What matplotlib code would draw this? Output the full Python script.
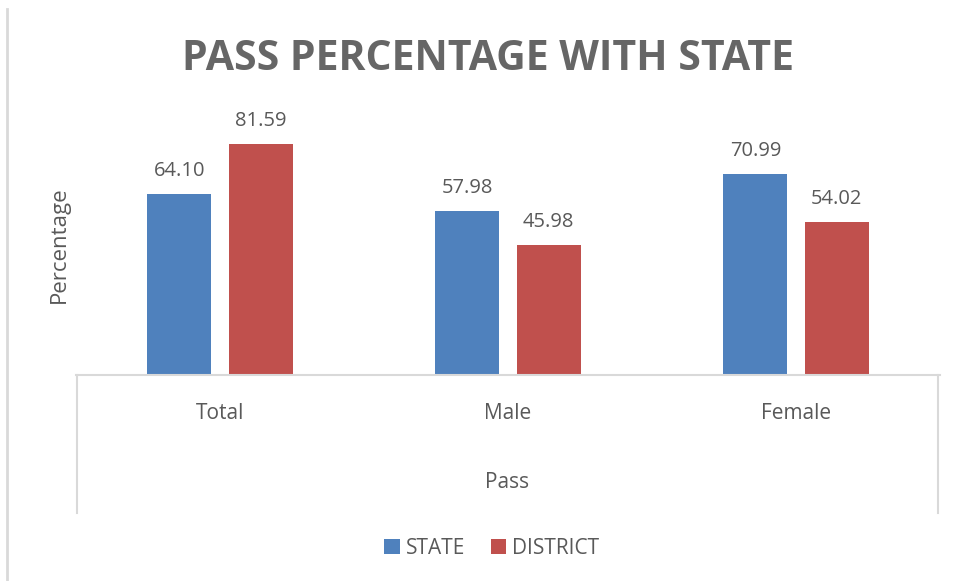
import matplotlib.pyplot as plt
from matplotlib.lines import Line2D
import numpy as np

categories = ['Total', 'Male', 'Female']
state = [64.10, 57.98, 70.99]
district = [81.59, 45.98, 54.02]
series_names = ['STATE', 'DISTRICT']
colors = ['#4F81BD', '#C0504D']
text_col = '#595959'
line_col = '#D9D9D9'

plt.rcParams['font.family'] = ['Open Sans', 'DejaVu Sans']

W, H = 956, 581
fig = plt.figure(figsize=(W / 100, H / 100), dpi=100)
ax = fig.add_axes([76 / W, 1 - 375 / H, 864 / W, 283 / H])

x = np.arange(len(categories))
bw = 0.222
off = 0.141
for vals, name, c, dx in zip([state, district], series_names, colors, [-off, off]):
    bars = ax.bar(x + dx, vals, bw, color=c, label=name)
    for b, v in zip(bars, vals):
        ax.text(b.get_x() + b.get_width() / 2, v + 4.5, f'{v:.2f}',
                ha='center', va='bottom', fontsize=14.5, color=text_col)

ax.set_xlim(-0.5, 2.5)
ax.set_ylim(0, 100)
ax.set_yticks([])
ax.set_xticks(x)
ax.set_xticklabels(categories, fontsize=15, color=text_col)
ax.tick_params(axis='x', length=0, pad=20)
for s in ['top', 'right', 'left']:
    ax.spines[s].set_visible(False)
ax.spines['bottom'].set_color(line_col)
ax.spines['bottom'].set_linewidth(1.5)

ax.set_ylabel('Percentage', fontsize=16, color=text_col)
ax.yaxis.set_label_coords(-0.007, 0.46)

# multi-level category box
for px in [77, 938]:
    fig.add_artist(Line2D([px / W, px / W], [1 - 375 / H, 1 - 513 / H],
                          color=line_col, lw=1.5))
fig.add_artist(Line2D([7 / W, 7 / W], [1 - 9 / H, 0], color=line_col, lw=2))
fig.text(507 / W, 1 - 482 / H, 'Pass', ha='center', va='center',
         fontsize=15, color=text_col)

fig.text(488 / W, 1 - 59 / H, 'PASS PERCENTAGE WITH STATE', ha='center',
         va='center', fontsize=29.5, fontweight='bold', color='#666666')

fig.legend(loc='center', bbox_to_anchor=(492 / W, 1 - 548 / H), ncol=2,
           frameon=False, fontsize=15, handlelength=0.75, handleheight=0.75,
           handletextpad=0.3, columnspacing=1.2, labelcolor=text_col)

fig.savefig('out.png', dpi=100)
